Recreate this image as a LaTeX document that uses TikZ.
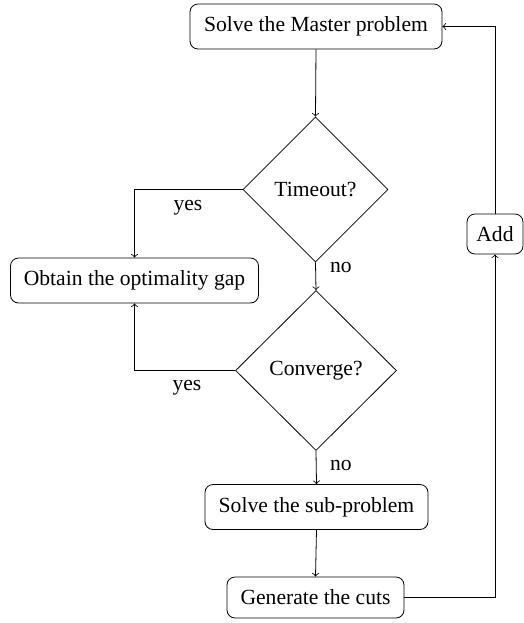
\documentclass[tikz,border=0pt]{standalone}
\usepackage{fontspec}
\setmainfont{Liberation Serif}
\usetikzlibrary{shapes.geometric,calc}
\begin{document}
\begin{tikzpicture}[x=0.5pt,y=-0.5pt,
  every node/.style={font=\fontsize{10.8}{13}\selectfont},
  box/.style={draw,rounded corners=4pt,minimum height=22.5pt,inner sep=0pt},
  decision/.style={draw,diamond,inner sep=0pt},
  lbl/.style={inner sep=0pt},
  arr/.style={->}]
\useasboundingbox (0,0) rectangle (524,623);
\node[box,minimum width=126pt] (master) at (316,26.5) {Solve the Master problem};
\node[decision,minimum width=72.5pt,minimum height=72.5pt] (timeout) at (315.5,189.5) {Timeout?};
\node[box,minimum width=124pt] (obtain) at (134.5,280.5) {Obtain the optimality gap};
\node[decision,minimum width=80.5pt,minimum height=80pt] (conv) at (316,370.5) {Converge?};
\node[box,minimum width=111.5pt] (sub) at (316.5,507) {Solve the sub-problem};
\node[box,minimum width=88.5pt,minimum height=20.5pt] (gen) at (315.5,597.5) {Generate the cuts};
\node[box,minimum width=28pt,minimum height=20pt] (add) at (495,234) {Add};
\draw[arr] (master.south) -- (timeout.north);
\draw[arr] (timeout.west) -| (obtain.north);
\node[lbl] (y1) at (188,208) {yes};
\draw[arr] (timeout.south) -- (conv.north);
\node[lbl] (n1) at (341,268) {no};
\draw[arr] (conv.west) -| (obtain.south);
\node[lbl] (y2) at (187,388) {yes};
\draw[arr] (conv.south) -- (sub.north);
\node[lbl] (n2) at (341,466) {no};
\draw[arr] (sub.south) -- (gen.north);
\draw[arr] (gen.east) -| (add.south);
\draw[arr] (add.north) |- (master.east);
\end{tikzpicture}
\end{document}
